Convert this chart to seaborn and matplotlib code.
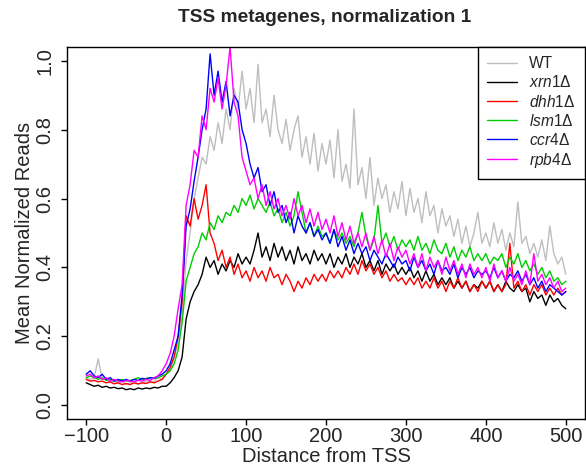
import matplotlib
matplotlib.use("Agg")
import matplotlib.pyplot as plt
from matplotlib.lines import Line2D
import numpy as np
import pandas as pd
import seaborn as sns

# Distance from TSS (nt), sampled every 5 nt
positions = list(range(-100, 501, 5))

wt = [0.08, 0.075, 0.08, 0.135, 0.075, 0.08, 0.065, 0.07, 0.065, 0.07, 0.06, 0.065, 0.07, 0.06, 0.065, 0.07, 0.065, 0.07, 0.08, 0.075,
      0.09, 0.10, 0.14, 0.18, 0.26, 0.42, 0.50, 0.60, 0.66, 0.72, 0.70, 0.78, 0.74, 0.82, 0.76, 0.86, 0.80, 0.92, 0.86, 0.97,
      0.86, 0.92, 0.82, 0.99, 0.82, 0.86, 0.78, 0.90, 0.80, 0.76, 0.83, 0.74, 0.80, 0.84, 0.72, 0.78, 0.70, 0.79, 0.68, 0.76,
      0.70, 0.77, 0.66, 0.80, 0.65, 0.70, 0.63, 0.86, 0.64, 0.69, 0.60, 0.72, 0.58, 0.66, 0.60, 0.64, 0.56, 0.62, 0.57, 0.65,
      0.55, 0.63, 0.56, 0.60, 0.53, 0.62, 0.55, 0.58, 0.50, 0.57, 0.52, 0.55, 0.49, 0.54, 0.47, 0.52, 0.46, 0.50, 0.56, 0.47,
      0.50, 0.46, 0.53, 0.47, 0.51, 0.45, 0.50, 0.46, 0.59, 0.47, 0.49, 0.44, 0.47, 0.43, 0.48, 0.42, 0.52, 0.44, 0.41, 0.43,
      0.38]

xrn1 = [0.065, 0.06, 0.055, 0.058, 0.052, 0.055, 0.05, 0.052, 0.048, 0.05, 0.045, 0.048, 0.045, 0.05, 0.047, 0.05, 0.048, 0.052, 0.05, 0.055,
        0.055, 0.065, 0.08, 0.10, 0.14, 0.25, 0.30, 0.33, 0.35, 0.38, 0.43, 0.40, 0.42, 0.38, 0.41, 0.39, 0.42, 0.40, 0.44, 0.41,
        0.43, 0.41, 0.45, 0.50, 0.43, 0.46, 0.42, 0.47, 0.43, 0.46, 0.42, 0.45, 0.41, 0.46, 0.42, 0.44, 0.41, 0.45, 0.42, 0.44,
        0.41, 0.44, 0.40, 0.43, 0.41, 0.44, 0.40, 0.43, 0.41, 0.44, 0.40, 0.42, 0.39, 0.42, 0.38, 0.41, 0.39, 0.41, 0.38, 0.40,
        0.38, 0.40, 0.37, 0.39, 0.36, 0.39, 0.36, 0.38, 0.35, 0.37, 0.35, 0.37, 0.34, 0.36, 0.34, 0.36, 0.33, 0.35, 0.34, 0.36,
        0.34, 0.36, 0.33, 0.35, 0.33, 0.36, 0.34, 0.33, 0.35, 0.33, 0.34, 0.30, 0.33, 0.31, 0.32, 0.29, 0.32, 0.30, 0.31, 0.29,
        0.28]

dhh1 = [0.075, 0.07, 0.072, 0.068, 0.07, 0.065, 0.068, 0.062, 0.065, 0.06, 0.063, 0.06, 0.065, 0.062, 0.065, 0.063, 0.068, 0.065, 0.07, 0.075,
        0.09, 0.11, 0.14, 0.20, 0.30, 0.55, 0.52, 0.60, 0.54, 0.58, 0.64, 0.50, 0.47, 0.42, 0.45, 0.40, 0.43, 0.38, 0.41, 0.37,
        0.39, 0.36, 0.40, 0.37, 0.39, 0.36, 0.40, 0.37, 0.38, 0.35, 0.38, 0.36, 0.33, 0.36, 0.34, 0.37, 0.35, 0.38, 0.36, 0.38,
        0.36, 0.39, 0.37, 0.39, 0.37, 0.40, 0.38, 0.41, 0.38, 0.42, 0.39, 0.41, 0.38, 0.40, 0.37, 0.39, 0.36, 0.38, 0.36, 0.37,
        0.35, 0.37, 0.35, 0.37, 0.34, 0.36, 0.34, 0.37, 0.34, 0.36, 0.33, 0.36, 0.34, 0.37, 0.34, 0.36, 0.33, 0.35, 0.33, 0.36,
        0.34, 0.36, 0.33, 0.35, 0.33, 0.35, 0.47, 0.34, 0.36, 0.33, 0.35, 0.32, 0.35, 0.33, 0.35, 0.32, 0.34, 0.32, 0.34, 0.32,
        0.33]

lsm1 = [0.08, 0.085, 0.08, 0.075, 0.08, 0.072, 0.075, 0.07, 0.072, 0.075, 0.07, 0.072, 0.075, 0.08, 0.075, 0.078, 0.08, 0.078, 0.08, 0.085,
        0.09, 0.10, 0.12, 0.16, 0.24, 0.36, 0.40, 0.44, 0.46, 0.50, 0.48, 0.53, 0.51, 0.55, 0.53, 0.56, 0.55, 0.58, 0.56, 0.60,
        0.58, 0.61, 0.57, 0.60, 0.58, 0.56, 0.59, 0.55, 0.57, 0.53, 0.56, 0.52, 0.55, 0.62, 0.56, 0.50, 0.53, 0.49, 0.52, 0.49,
        0.50, 0.47, 0.51, 0.48, 0.50, 0.47, 0.49, 0.46, 0.50, 0.56, 0.49, 0.45, 0.48, 0.58, 0.47, 0.50, 0.46, 0.49, 0.45, 0.48,
        0.46, 0.48, 0.45, 0.49, 0.45, 0.47, 0.44, 0.48, 0.45, 0.44, 0.47, 0.43, 0.46, 0.42, 0.45, 0.43, 0.46, 0.42, 0.44, 0.42,
        0.44, 0.41, 0.43, 0.42, 0.44, 0.40, 0.43, 0.41, 0.44, 0.40, 0.42, 0.39, 0.41, 0.38, 0.40, 0.37, 0.39, 0.36, 0.37, 0.35,
        0.36]

ccr4 = [0.09, 0.10, 0.085, 0.08, 0.09, 0.075, 0.08, 0.07, 0.075, 0.07, 0.075, 0.07, 0.075, 0.072, 0.078, 0.075, 0.08, 0.078, 0.085, 0.09,
        0.10, 0.12, 0.16, 0.20, 0.32, 0.52, 0.57, 0.65, 0.72, 0.80, 0.86, 1.02, 0.90, 0.97, 0.88, 0.94, 0.84, 0.90, 0.88, 0.80,
        0.76, 0.70, 0.66, 0.69, 0.62, 0.64, 0.58, 0.62, 0.56, 0.58, 0.53, 0.56, 0.50, 0.55, 0.52, 0.50, 0.53, 0.49, 0.51, 0.48,
        0.50, 0.47, 0.51, 0.46, 0.49, 0.45, 0.48, 0.44, 0.47, 0.44, 0.46, 0.42, 0.45, 0.43, 0.41, 0.44, 0.42, 0.40, 0.43, 0.41,
        0.42, 0.39, 0.43, 0.40, 0.42, 0.39, 0.41, 0.38, 0.42, 0.39, 0.40, 0.38, 0.41, 0.37, 0.40, 0.38, 0.40, 0.37, 0.39, 0.38,
        0.39, 0.37, 0.40, 0.37, 0.39, 0.36, 0.38, 0.37, 0.39, 0.36, 0.38, 0.35, 0.37, 0.34, 0.36, 0.33, 0.35, 0.34, 0.33, 0.32,
        0.33]

rpb4 = [0.085, 0.09, 0.08, 0.085, 0.075, 0.08, 0.07, 0.075, 0.07, 0.068, 0.072, 0.07, 0.068, 0.072, 0.07, 0.075, 0.072, 0.08, 0.085, 0.10,
        0.12, 0.15, 0.20, 0.28, 0.35, 0.58, 0.64, 0.74, 0.72, 0.84, 0.80, 0.92, 0.88, 0.95, 0.86, 0.93, 1.04, 0.88, 0.84, 0.72,
        0.68, 0.64, 0.66, 0.60, 0.64, 0.58, 0.62, 0.57, 0.60, 0.55, 0.58, 0.54, 0.60, 0.55, 0.58, 0.53, 0.57, 0.52, 0.56, 0.51,
        0.54, 0.50, 0.55, 0.49, 0.53, 0.48, 0.52, 0.47, 0.50, 0.46, 0.50, 0.45, 0.49, 0.44, 0.48, 0.43, 0.47, 0.42, 0.46, 0.43,
        0.45, 0.41, 0.44, 0.40, 0.44, 0.39, 0.43, 0.40, 0.42, 0.38, 0.43, 0.39, 0.42, 0.38, 0.41, 0.37, 0.41, 0.38, 0.40, 0.37,
        0.40, 0.36, 0.41, 0.37, 0.39, 0.36, 0.40, 0.36, 0.38, 0.35, 0.39, 0.35, 0.44, 0.36, 0.38, 0.35, 0.37, 0.34, 0.36, 0.33,
        0.34]

strains = ["WT", "xrn1", "dhh1", "lsm1", "ccr4", "rpb4"]
series = [wt, xrn1, dhh1, lsm1, ccr4, rpb4]
colors = ["#BEBEBE", "#000000", "#FF0000", "#00CD00", "#0000FF", "#FF00FF"]
legend_labels = ["WT", r"$\mathit{xrn1}\Delta$", r"$\mathit{dhh1}\Delta$",
                 r"$\mathit{lsm1}\Delta$", r"$\mathit{ccr4}\Delta$", r"$\mathit{rpb4}\Delta$"]

df = pd.concat([pd.DataFrame({"Distance": positions, "Reads": vals, "Strain": name})
                for name, vals in zip(strains, series)], ignore_index=True)

sns.set_style("ticks")
plt.rcParams["font.family"] = ["Liberation Sans", "DejaVu Sans"]
plt.rcParams["mathtext.fontset"] = "custom"
plt.rcParams["mathtext.rm"] = "Liberation Sans"
plt.rcParams["mathtext.it"] = "Liberation Sans:italic"
plt.rcParams["mathtext.default"] = "regular"

fig = plt.figure(figsize=(5.86, 4.71), dpi=100)
ax = fig.add_axes([67 / 586, 1 - 419 / 471, 518 / 586, 372 / 471])

sns.lineplot(data=df, x="Distance", y="Reads", hue="Strain", hue_order=strains,
             palette=dict(zip(strains, colors)), estimator=None, sort=False,
             linewidth=1.0, legend=False, ax=ax)

ax.set_xlim(-124, 524)
ax.set_ylim(-0.04, 1.04)
ax.set_xticks([-100, 0, 100, 200, 300, 400, 500])
ax.set_xticklabels(["\u2212100", "0", "100", "200", "300", "400", "500"], fontsize=14.5)
ax.set_yticks([0, 0.2, 0.4, 0.6, 0.8, 1.0])
ax.set_yticklabels(["0.0", "0.2", "0.4", "0.6", "0.8", "1.0"], rotation=90, va="center", fontsize=14.5)
ax.tick_params(direction="out", length=4, width=1, color="black")
ax.tick_params(axis="x", pad=1.5)
ax.tick_params(axis="y", pad=5)
for s in ax.spines.values():
    s.set_visible(True)
    s.set_color("black")
    s.set_linewidth(1)

ax.set_xlabel("Distance from TSS", fontsize=14.5, labelpad=1)
ax.set_ylabel("Mean Normalized Reads", fontsize=14.5, labelpad=1)
fig.text(325 / 586, 1 - 18 / 471, "TSS metagenes, normalization 1",
         ha="center", va="center", fontsize=13.8, fontweight="bold")

handles = [Line2D([0], [0], color=c, lw=1.0) for c in colors]
leg = ax.legend(handles, legend_labels, loc="upper right", fontsize=11.2,
                frameon=True, fancybox=False, edgecolor="black", framealpha=1,
                borderaxespad=0, handlelength=1.9, handletextpad=0.8,
                labelspacing=0.2, borderpad=0.6)
leg.get_frame().set_linewidth(1)

fig.savefig("out.png", dpi=100)
